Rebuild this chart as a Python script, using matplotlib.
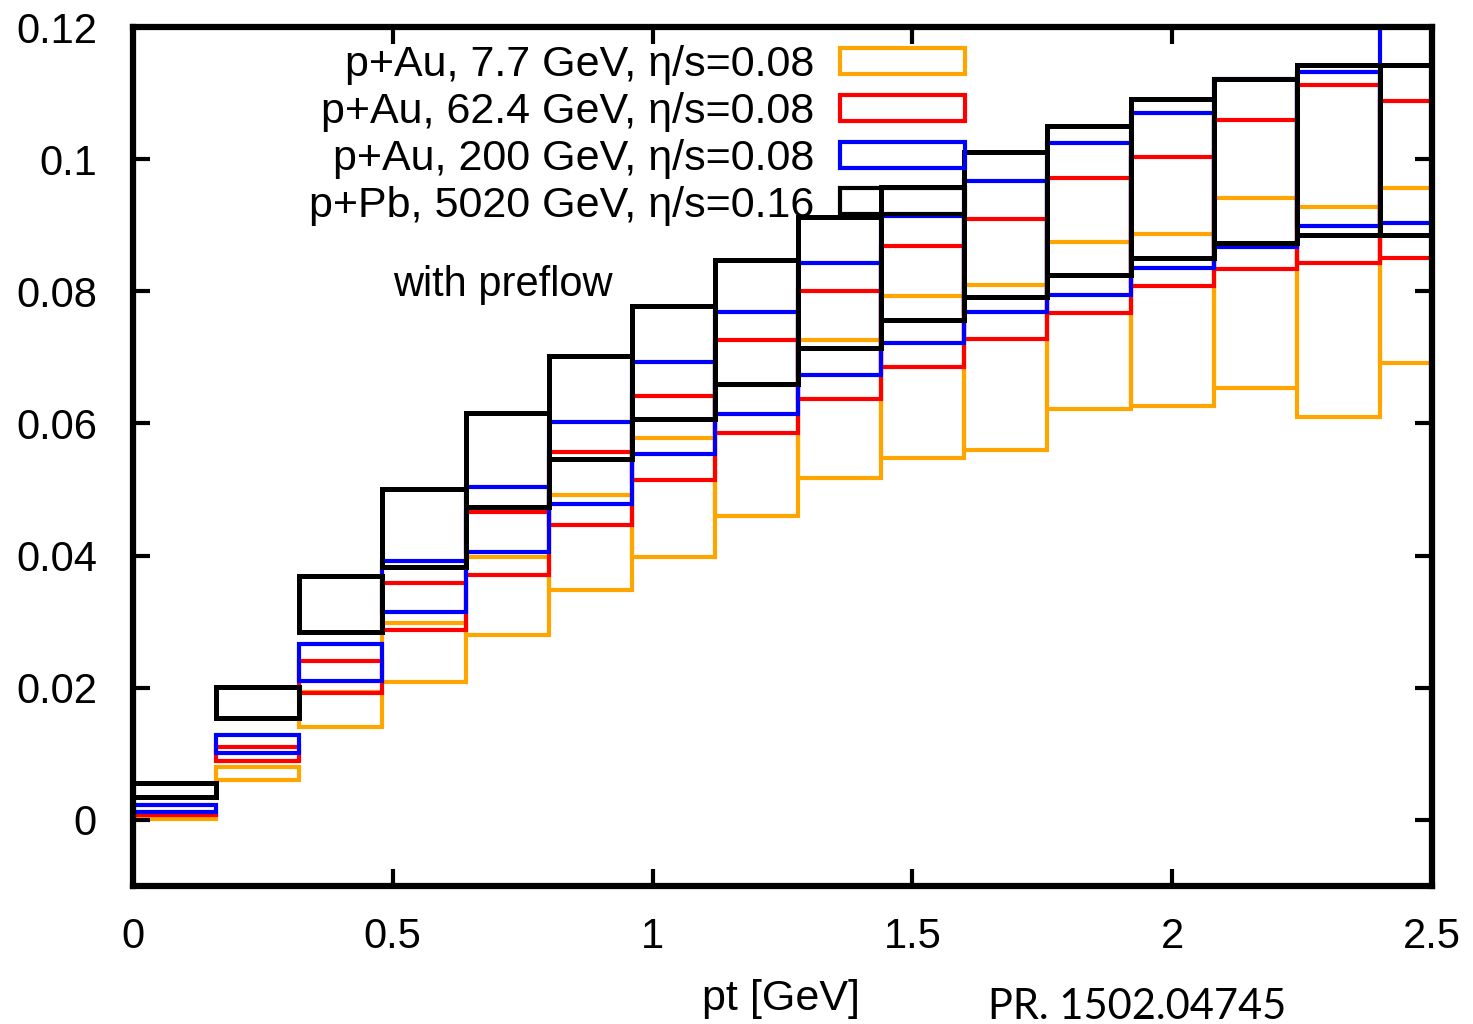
import matplotlib
matplotlib.use("Agg")
import matplotlib.pyplot as plt
from matplotlib.patches import Patch
import numpy as np

plt.rcParams['font.family'] = ['Liberation Sans', 'DejaVu Sans']

# pt bins (width 0.16 GeV)
bin_edges = [0.0, 0.16, 0.32, 0.48, 0.64, 0.80, 0.96, 1.12, 1.28, 1.44,
             1.60, 1.76, 1.92, 2.08, 2.24, 2.40]
bin_width = 0.16

# lower / upper edge of each box
pau77_lo = [0.0001, 0.0061, 0.0141, 0.0209, 0.0280, 0.0348, 0.0398, 0.0460,
            0.0518, 0.0548, 0.0560, 0.0622, 0.0627, 0.0654, 0.0610, 0.0692]
pau77_hi = [0.0004, 0.0080, 0.0194, 0.0298, 0.0398, 0.0492, 0.0578, 0.0658,
            0.0726, 0.0793, 0.0810, 0.0875, 0.0887, 0.0941, 0.0928, 0.0956]

pau624_lo = [0.0007, 0.0089, 0.0192, 0.0288, 0.0371, 0.0446, 0.0515, 0.0586,
             0.0637, 0.0686, 0.0728, 0.0767, 0.0808, 0.0834, 0.0843, 0.0850]
pau624_hi = [0.0010, 0.0110, 0.0241, 0.0359, 0.0466, 0.0557, 0.0642, 0.0726,
             0.0800, 0.0869, 0.0909, 0.0972, 0.1003, 0.1059, 0.1112, 0.1088]

pau200_lo = [0.0012, 0.0101, 0.0210, 0.0315, 0.0406, 0.0478, 0.0554, 0.0614,
             0.0673, 0.0722, 0.0769, 0.0794, 0.0835, 0.0867, 0.0899, 0.0903]
pau200_hi = [0.0022, 0.0129, 0.0266, 0.0392, 0.0504, 0.0602, 0.0693, 0.0769,
             0.0843, 0.0914, 0.0967, 0.1024, 0.1070, 0.1122, 0.1132, 0.1230]

ppb_lo = [0.0035, 0.0154, 0.0284, 0.0383, 0.0474, 0.0546, 0.0607, 0.0660,
          0.0714, 0.0757, 0.0791, 0.0825, 0.0850, 0.0873, 0.0885, 0.0885]
ppb_hi = [0.0056, 0.0201, 0.0369, 0.0501, 0.0616, 0.0702, 0.0778, 0.0848,
          0.0913, 0.0958, 0.1011, 0.1050, 0.1091, 0.1121, 0.1143, 0.1143]

labels = ["p+Au, 7.7 GeV, η/s=0.08", "p+Au, 62.4 GeV, η/s=0.08",
          "p+Au, 200 GeV, η/s=0.08", "p+Pb, 5020 GeV, η/s=0.16"]
colors = ["#FFA500", "#FF0000", "#0000FF", "#000000"]
series = [(pau77_lo, pau77_hi), (pau624_lo, pau624_hi),
          (pau200_lo, pau200_hi), (ppb_lo, ppb_hi)]

fig = plt.figure(figsize=(14.73, 10.24), dpi=100)
ax = fig.add_axes([133/1473, 1-886/1024, (1432-133)/1473, (886-27)/1024])

for (lo, hi), c in zip(series, colors):
    lo = np.array(lo)
    hi = np.array(hi)
    lw = 3.6 if c == "#000000" else 3.0
    ax.bar(bin_edges, hi - lo, width=bin_width, bottom=lo, align='edge',
           fill=False, edgecolor=c, linewidth=lw)

ax.set_xlim(0, 2.5)
ax.set_ylim(-0.01, 0.12)
ax.set_xticks([0, 0.5, 1, 1.5, 2, 2.5])
ax.set_xticklabels(["0", "0.5", "1", "1.5", "2", "2.5"])
ax.set_yticks([0, 0.02, 0.04, 0.06, 0.08, 0.1, 0.12])
ax.set_yticklabels(["0", "0.02", "0.04", "0.06", "0.08", "0.1", "0.12"])
ax.tick_params(direction='in', length=12, width=3, top=True, right=True,
               labelsize=30)
ax.tick_params(axis='x', pad=22)
ax.tick_params(axis='y', pad=26)
for s in ax.spines.values():
    s.set_linewidth(4.5)

ax.set_xlabel("pt [GeV]", fontsize=31)
ax.xaxis.set_label_coords((781-133)/(1432-133), -0.108)

handles = [Patch(facecolor='none', edgecolor=c, linewidth=3) for c in colors]
leg = ax.legend(handles, labels, loc='upper right', markerfirst=False,
                frameon=False, fontsize=31, handlelength=2.9,
                handleheight=0.55, handletextpad=0.6, labelspacing=0.16,
                borderpad=0, borderaxespad=0,
                bbox_transform=fig.transFigure,
                bbox_to_anchor=(965/1473, 1-45/1024))

fig.text(393/1473, 1-285/1024, "with preflow", fontsize=30, ha='left',
         va='center')

fig.text(988/1473, 1-988/1024, "PR. 1502.04745", fontsize=30,
         family=['Lato', 'Open Sans', 'DejaVu Sans'], ha='left', va='top')

fig.savefig("out.png", dpi=100)
